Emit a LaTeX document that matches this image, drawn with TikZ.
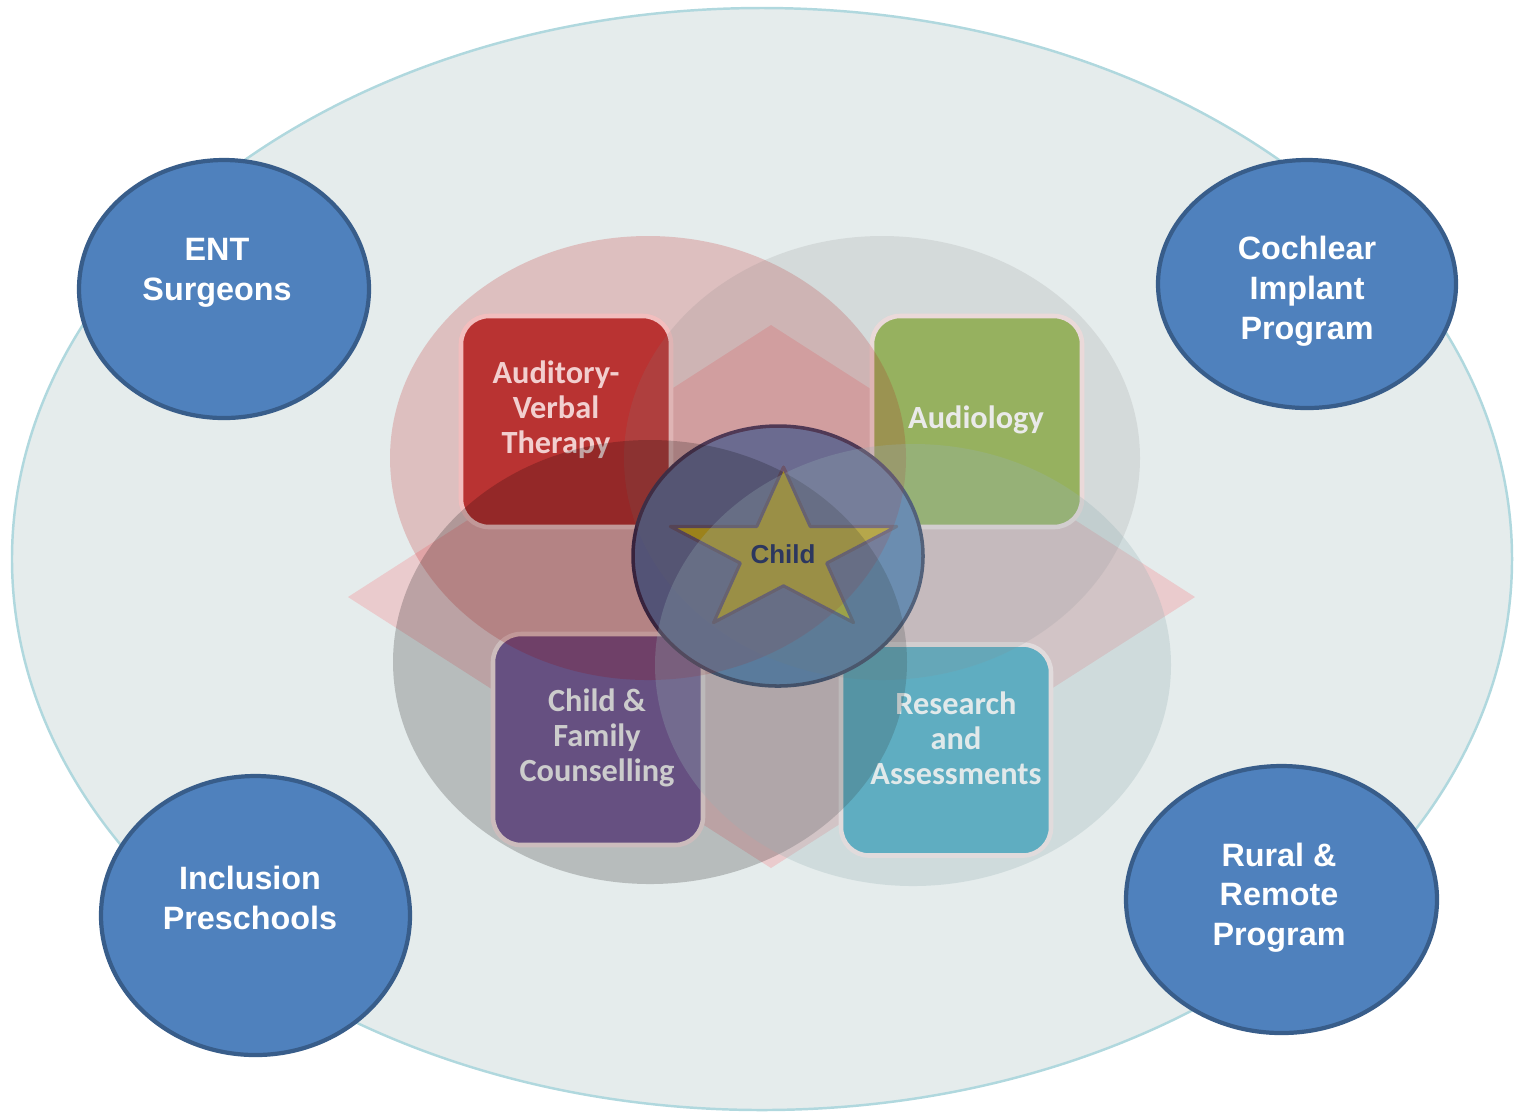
\documentclass[tikz,border=0pt]{standalone}
\usepackage{fontspec}
\usepackage{tikz}
\usetikzlibrary{positioning,shapes.geometric}
\newfontfamily\circlefont{Liberation Sans}
\newfontfamily\boxfont{Carlito}

\definecolor{bgfill}{RGB}{229,236,236}
\definecolor{bgline}{RGB}{176,216,222}
\definecolor{diamondpink}{RGB}{234,203,205}
\definecolor{avtred}{RGB}{184,64,62}
\definecolor{audgreen}{RGB}{155,187,89}
\definecolor{cfcpurple}{RGB}{128,100,162}
\definecolor{resteal}{RGB}{75,172,198}
\definecolor{partnerblue}{RGB}{79,129,189}
\definecolor{partnerline}{RGB}{56,93,138}
\definecolor{childnavy}{RGB}{44,55,95}
\definecolor{stargold}{RGB}{212,210,22}
\definecolor{tealgrey}{RGB}{160,200,205}

\tikzset{
	partner/.style={ellipse, draw=partnerline, fill=partnerblue, line width=1.2pt},
	partnertext/.style={text=white, align=center, font=\circlefont\bfseries\fontsize{9.2}{11.3}\selectfont},
	service/.style={draw=white!92!red, line width=1.3pt, rounded corners=0.28cm, minimum width=2.1cm, minimum height=2.11cm},
	servicetext/.style={text=white, align=center, font=\boxfont\bfseries\fontsize{9.2}{10}\selectfont},
}

\begin{document}
\begin{tikzpicture}[line cap=round, line join=round]
		\useasboundingbox (0,0) rectangle (15.19,-11.13);
		% background
		\draw [bgline, fill=bgfill, line width=0.7pt] (7.62,-5.59) ellipse (7.50cm and 5.51cm);
		\fill [diamondpink] (3.48,-5.97) -- (7.71,-3.25) -- (11.95,-5.97) -- (7.71,-8.68) -- cycle;
		% services
		\node [service, fill=avtred] (avt) at (5.66,-4.215) {};
		\node [service, fill=audgreen] (aud) at (9.77,-4.215) {};
		\node [service, fill=cfcpurple] (cfc) at (5.98,-7.395) {};
		\node [service, fill=resteal] (res) at (9.46,-7.50) {};
		\node [servicetext] (avttext) at (5.56,-4.10) {Auditory-\\Verbal\\Therapy};
		\node [servicetext] (audtext) at (9.76,-4.20) {Audiology};
		\node [servicetext] (cfctext) at (5.97,-7.38) {Child \&\\Family\\Counselling};
		\node [servicetext] (restext) at (9.56,-7.38) {Research\\and\\Assessments};
		% child
		\draw [draw=childnavy, fill=partnerblue!90!gray, line width=1pt] (7.78,-5.56) ellipse (1.45cm and 1.30cm);
		\draw [draw=childnavy!80, fill=stargold, line width=0.9pt, shift={(7.835,-5.53)}, xscale=1.19, yscale=0.86]
			(90:1) -- (126:0.382) -- (162:1) -- (198:0.382) -- (234:1) -- (270:0.382)
			-- (306:1) -- (342:0.382) -- (18:1) -- (54:0.382) -- cycle;
		% overlapping fields
		\fill [red!75!black, fill opacity=0.19] (6.48,-4.58) ellipse (2.58cm and 2.22cm);
		\fill [gray, fill opacity=0.16] (8.82,-4.58) ellipse (2.58cm and 2.22cm);
		\fill [black, fill opacity=0.2] (6.50,-6.62) ellipse (2.57cm and 2.22cm);
		\fill [tealgrey!70!gray, fill opacity=0.28] (9.13,-6.65) ellipse (2.58cm and 2.21cm);
		\node [text=childnavy, font=\circlefont\bfseries\fontsize{7.4}{9}\selectfont] (child) at (7.83,-5.54) {Child};
		% partners
		\node [partner, minimum width=2.9cm, minimum height=2.58cm] (ent) at (2.24,-2.89) {};
		\node [partner, minimum width=2.98cm, minimum height=2.48cm] (cip) at (13.07,-2.84) {};
		\node [partner, minimum width=3.09cm, minimum height=2.79cm] (inc) at (2.555,-9.155) {};
		\node [partner, minimum width=3.11cm, minimum height=2.67cm] (rrp) at (12.815,-8.995) {};
		\node [partnertext] (enttext) at (2.17,-2.73) {ENT\\Surgeons};
		\node [partnertext] (ciptext) at (13.07,-2.91) {Cochlear\\Implant\\Program};
		\node [partnertext] (inctext) at (2.50,-8.98) {Inclusion\\Preschools};
		\node [partnertext] (rrptext) at (12.79,-8.975) {Rural \&\\Remote\\Program};
\end{tikzpicture}
\end{document}
